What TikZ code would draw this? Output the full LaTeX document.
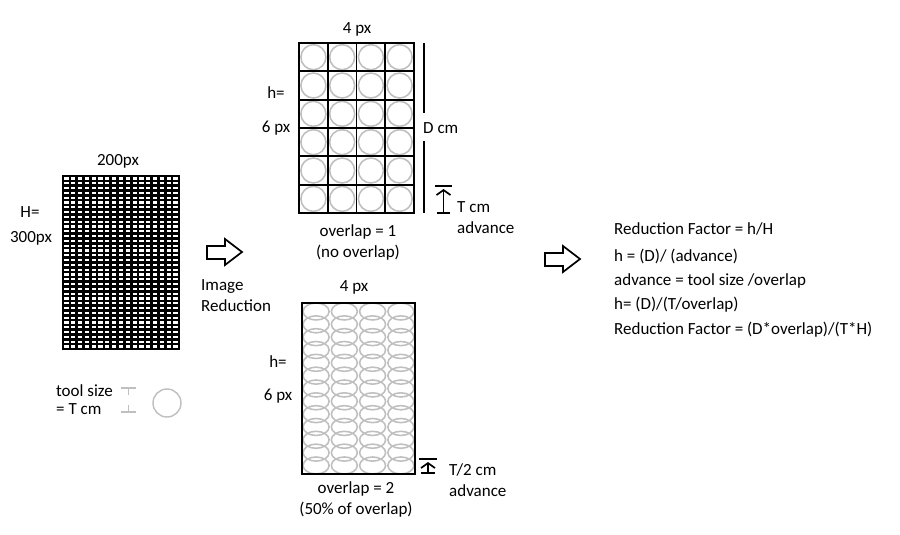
\documentclass[tikz,border=0pt]{standalone}
\usepackage{fontspec}
\setmainfont{Carlito}
\usepackage{tikz}
\usetikzlibrary{calc,arrows.meta}
\def\hollowarrow(#1,#2){\draw[line width=0.6mm] (#1,#2+4) -- (#1+18,#2+4) -- (#1+18,#2+10) -- (#1+35,#2-3) -- (#1+18,#2-16) -- (#1+18,#2-9) -- (#1,#2-9) -- cycle;}
\tikzset{lbl/.style={font=\fontsize{17}{19}\selectfont, inner sep=0pt}}

\begin{document}
\begin{tikzpicture}[x=1pt, y=-1pt]
			%%%%% START %%%%%
			\useasboundingbox (0,0) rectangle (900,535);
			
			% original image
			\foreach \i in {1,...,16} \draw[line width=2.6pt] ({63+\i*116/17}, 176) -- ({63+\i*116/17}, 349);
			\foreach \j in {1,...,35} \draw[line width=2.6pt] (63, {176+\j*173/36}) -- (179, {176+\j*173/36});
			\draw[line width=0.8mm] (63, 176) rectangle (179, 349);
			\node[lbl] (wpx) at (118, 161) {200px};
			\node[lbl] (hlbl) at (30, 212) {H=};
			\node[lbl] (hpx) at (31, 238) {300px};
			
			% tool
			\node[lbl, anchor=west] (tool) at (56, 391) {tool size};
			\node[lbl, anchor=west] (toolt) at (56, 409) {= T cm};
			\draw[line width=0.5mm, color=black!25] (121, 388) -- (136, 388);
			\draw[line width=0.5mm, color=black!25] (128.5, 388) -- (128.5, 395);
			\draw[line width=0.5mm, color=black!25] (128.5, 405) -- (128.5, 412);
			\draw[line width=0.5mm, color=black!25] (121, 412) -- (136, 412);
			\draw[line width=0.5mm, color=black!25] (167, 403) circle (14);
			
			\hollowarrow(207,255)
			\node[lbl, anchor=west] (img) at (201, 287) {Image};
			\node[lbl, anchor=west] (red) at (201, 306) {Reduction};
			
			% overlap = 1
			\foreach \i in {0,...,3} \foreach \j in {0,...,5}
				\draw[line width=0.55mm, color=black!25] ({299+14.4+\i*28.75}, {43+14.2+\j*28.33}) circle (12.5);
			\foreach \i in {1,2,3} \draw[line width=0.7mm] ({299+\i*28.75}, 43) -- ({299+\i*28.75}, 213);
			\foreach \j in {1,...,5} \draw[line width=0.7mm] (299, {43+\j*28.33}) -- (414, {43+\j*28.33});
			\draw[line width=0.7mm] (299, 43) rectangle (414, 213);
			\node[lbl] (topw) at (357, 29) {4 px};
			\node[lbl] (toph) at (276, 93) {h=};
			\node[lbl] (topn) at (276, 128) {6 px};
			\draw[line width=0.7mm] (424, 43) -- (424, 113);
			\draw[line width=0.7mm] (424, 141) -- (424, 213);
			\node[lbl, anchor=west] (dcm) at (423, 128) {D cm};
			\draw[line width=0.6mm] (435, 186) -- (452, 186);
			\draw[line width=0.6mm, -{Straight Barb[length=5pt, width=14pt]}] (443.5, 213) -- (443.5, 189);
			\draw[line width=0.6mm] (437, 213) -- (450, 213);
			\node[lbl, anchor=west] (tcm) at (457, 207) {T cm};
			\node[lbl, anchor=west] (adv1) at (457, 228) {advance};
			\node[lbl] (ov1) at (358, 232) {overlap = 1};
			\node[lbl] (nov) at (358, 253) {(no overlap)};
			
			% overlap = 2
			\foreach \i in {0,...,3} \foreach \j in {0,...,12}
				\draw[line width=0.55mm, color=black!25] ({302+14.1+\i*28.25}, {303+8.5+\j*12.83}) ellipse (13 and 8.5);
			\draw[line width=0.8mm] (302, 303) rectangle (415, 474);
			\node[lbl] (botw) at (354, 287) {4 px};
			\node[lbl] (both) at (278, 362) {h=};
			\node[lbl] (botn) at (278, 396) {6 px};
			\draw[line width=0.6mm] (419, 459) -- (437, 459);
			\draw[line width=0.6mm, -{Straight Barb[length=5pt, width=14pt]}] (428, 473) -- (428, 462);
			\draw[line width=0.6mm] (421, 473) -- (435, 473);
			\node[lbl, anchor=west] (t2cm) at (449, 470) {T/2 cm};
			\node[lbl, anchor=west] (adv2) at (449, 491) {advance};
			\node[lbl] (ov2) at (356, 489) {overlap = 2};
			\node[lbl] (half) at (356, 510) {(50\% of overlap)};
			
			\hollowarrow(545,262)
			
			% formulas
			\node[lbl, anchor=west] (f1) at (614, 229) {Reduction Factor = h/H};
			\node[lbl, anchor=west] (f2) at (614, 256) {h = (D)/ (advance)};
			\node[lbl, anchor=west] (f3) at (614, 281) {advance = tool size /overlap};
			\node[lbl, anchor=west] (f4) at (614, 305) {h= (D)/(T/overlap)};
			\node[lbl, anchor=west] (f5) at (614, 330) {Reduction Factor = (D*overlap)/(T*H)};
			%%%%% END %%%%%
\end{tikzpicture}
\end{document}
